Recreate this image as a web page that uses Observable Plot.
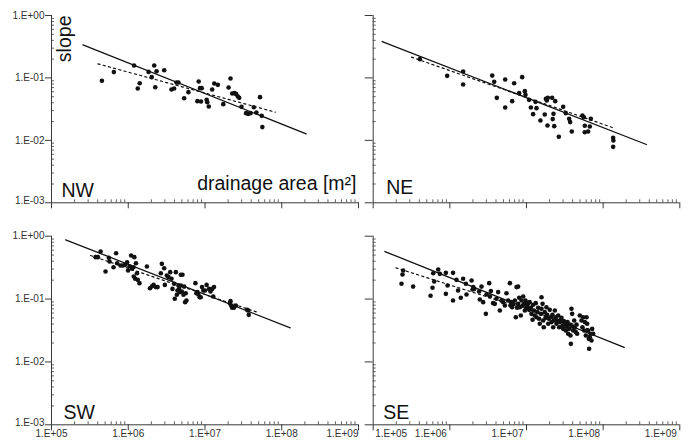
<!DOCTYPE html>
<html>
<head>
<meta charset="utf-8">
<script src="https://cdn.jsdelivr.net/npm/d3@7"></script>
<script src="https://cdn.jsdelivr.net/npm/@observablehq/plot@0.6"></script>
<style>
  html, body { margin: 0; padding: 0; background: #fff; }
  #chart { position: relative; width: 692px; height: 441px; overflow: hidden; }
  #chart svg { position: absolute; }
</style>
</head>
<body>
<div id="chart"></div>
<script>
// ---- Axis definitions ----
const xDomain = [1e5, 1e9];
const yDomain = [1e-3, 1];
const xTickValues = [1e5, 1e6, 1e7, 1e8, 1e9];
const xTickLabels = ["1.E+05", "1.E+06", "1.E+07", "1.E+08", "1.E+09"];
const yTickValues = [1, 1e-1, 1e-2, 1e-3];
const yTickLabels = ["1.E+00", "1.E-01", "1.E-02", "1.E-03"];
const xTitle = "drainage area [m²]";
const yTitle = "slope";
const panelNames = ["NW", "NE", "SW", "SE"];

// ---- Data: [drainage area (m²), slope] ----
const nwPoints = [[4.54e5,0.0899],[6.49e5,0.124],[1.19e6,0.158],[1.33e6,0.0677],[1.41e6,0.0824],[1.84e6,0.125],[2.02e6,0.103],[2.18e6,0.158],[2.25e6,0.0711],[2.34e6,0.128],[2.94e6,0.133],[3.66e6,0.0653],[3.96e6,0.0677],[4.25e6,0.0845],[4.51e6,0.0845],[5.35e6,0.0474],[6.08e6,0.0592],[7.96e6,0.0425],[8.28e6,0.0877],[8.61e6,0.0686],[8.87e6,0.0419],[9.06e6,0.0686],[1.05e7,0.0446],[1.07e7,0.0409],[1.12e7,0.0349],[1.24e7,0.0653],[1.32e7,0.0814],[1.47e7,0.0775],[1.73e7,0.038],[2.03e7,0.0703],[2.15e7,0.098],[2.26e7,0.0563],[2.42e7,0.057],[2.55e7,0.055],[2.68e7,0.0504],[2.79e7,0.048],[2.99e7,0.0344],[3.43e7,0.0273],[3.65e7,0.0266],[3.91e7,0.0273],[4.32e7,0.034],[4.67e7,0.0279],[5.21e7,0.0492],[5.48e7,0.0247],[5.59e7,0.0163]];
const nwSolid = [[2.57e5,0.339],[2.08e8,0.0127]];
const nwDashed = [[4.02e5,0.168],[8.24e7,0.0283]];

const nePoints = [[4.06e5,0.200],[9.23e5,0.108],[1.49e6,0.127],[1.49e6,0.0785],[3.57e6,0.109],[3.79e6,0.0866],[4.10e6,0.048],[5.27e6,0.0944],[5.27e6,0.0336],[6.50e6,0.0425],[6.90e6,0.0824],[8.02e6,0.057],[8.78e6,0.103],[9.51e6,0.0614],[9.70e6,0.0536],[1.08e7,0.0446],[1.14e7,0.0336],[1.22e7,0.0263],[1.31e7,0.0414],[1.35e7,0.0328],[1.52e7,0.0208],[1.73e7,0.0259],[1.79e7,0.0463],[1.84e7,0.0435],[1.88e7,0.0173],[1.90e7,0.048],[2.16e7,0.048],[2.20e7,0.0219],[2.25e7,0.0266],[2.30e7,0.0169],[2.37e7,0.0425],[2.64e7,0.0114],[3.01e7,0.0344],[3.26e7,0.0273],[3.60e7,0.0221],[3.71e7,0.0196],[3.90e7,0.0139],[5.37e7,0.025],[5.60e7,0.0235],[5.76e7,0.0171],[5.76e7,0.0135],[6.37e7,0.0139],[6.70e7,0.0167],[6.90e7,0.0221],[1.35e8,0.011],[1.36e8,0.00995],[1.35e8,0.00787]];
const neSolid = [[1.31e5,0.383],[3.67e8,0.00859]];
const neDashed = [[3.16e5,0.215],[1.35e8,0.0159]];

const swPoints = [[3.75e5,0.464],[4.02e5,0.464],[4.36e5,0.570],[5.06e5,0.274],[5.59e5,0.453],[5.70e5,0.396],[6.43e5,0.321],[6.95e5,0.537],[7.17e5,0.372],[7.91e5,0.342],[8.49e5,0.342],[9.10e5,0.350],[9.66e5,0.386],[9.95e5,0.284],[1.04e6,0.333],[1.09e6,0.493],[1.12e6,0.303],[1.17e6,0.321],[1.18e6,0.229],[1.20e6,0.464],[1.23e6,0.210],[1.26e6,0.372],[1.30e6,0.258],[1.33e6,0.202],[1.40e6,0.179],[1.75e6,0.330],[1.92e6,0.149],[2.04e6,0.160],[2.14e6,0.168],[2.29e6,0.155],[2.41e6,0.155],[2.66e6,0.258],[2.74e6,0.363],[2.94e6,0.310],[3.00e6,0.168],[3.18e6,0.237],[3.35e6,0.223],[3.52e6,0.268],[3.66e6,0.210],[3.77e6,0.145],[3.96e6,0.175],[4.04e6,0.101],[4.17e6,0.268],[4.30e6,0.117],[4.38e6,0.137],[4.51e6,0.164],[4.60e6,0.145],[4.70e6,0.129],[4.84e6,0.243],[4.84e6,0.164],[4.99e6,0.132],[5.09e6,0.243],[5.24e6,0.117],[5.35e6,0.158],[5.51e6,0.0893],[5.61e6,0.124],[5.73e6,0.0949],[7.50e6,0.179],[7.72e6,0.124],[7.96e6,0.129],[8.20e6,0.118],[8.53e6,0.107],[8.79e6,0.107],[9.14e6,0.155],[9.51e6,0.137],[1.00e7,0.137],[1.05e7,0.168],[1.13e7,0.145],[1.18e7,0.132],[1.24e7,0.145],[1.28e7,0.110],[1.31e7,0.155],[2.11e7,0.0861],[2.15e7,0.0926],[2.19e7,0.079],[2.26e7,0.0726],[2.38e7,0.0726],[2.52e7,0.079],[3.54e7,0.0674],[3.65e7,0.0658],[3.72e7,0.0561]];
const swSolid = [[1.53e5,0.875],[1.29e8,0.0349]];
const swDashed = [[3.23e5,0.493],[4.77e7,0.0619]];

const sePoints = [[2.46e5,0.284],[2.41e5,0.246],[2.34e5,0.175],[3.32e5,0.158],[5.60e5,0.113],[5.94e5,0.151],[6.25e5,0.190],[6.07e5,0.258],[7.05e5,0.295],[7.41e5,0.252],[8.87e5,0.261],[9.33e5,0.164],[8.87e5,0.121],[1.10e6,0.261],[1.10e6,0.0949],[1.22e6,0.202],[1.28e6,0.137],[1.39e6,0.105],[1.49e6,0.210],[1.62e6,0.175],[1.65e6,0.118],[1.92e6,0.197],[1.98e6,0.142],[2.02e6,0.155],[2.08e6,0.145],[2.41e6,0.132],[2.46e6,0.0985],[2.59e6,0.158],[2.72e6,0.0893],[2.95e6,0.0582],[3.01e6,0.118],[3.26e6,0.179],[3.33e6,0.110],[3.43e6,0.134],[3.67e6,0.0861],[3.86e6,0.0839],[4.06e6,0.101],[4.27e6,0.129],[4.49e6,0.0658],[4.72e6,0.0949],[4.96e6,0.0893],[5.22e6,0.079],[5.48e6,0.124],[5.77e6,0.0949],[6.07e6,0.179],[6.18e6,0.079],[6.37e6,0.0893],[6.50e6,0.0743],[6.70e6,0.0839],[7.05e6,0.0949],[7.26e6,0.0515],[7.41e6,0.155],[7.55e6,0.0726],[7.78e6,0.158],[7.78e6,0.0839],[8.02e6,0.105],[8.18e6,0.0743],[8.43e6,0.0548],[8.61e6,0.0949],[8.87e6,0.079],[9.06e6,0.110],[9.33e6,0.0839],[9.51e6,0.0658],[9.70e6,0.0949],[1.00e7,0.0743],[1.02e7,0.079],[1.05e7,0.0861],[1.08e7,0.0674],[1.10e7,0.0893],[1.14e7,0.0726],[1.16e7,0.0582],[1.20e7,0.0468],[1.22e7,0.081],[1.25e7,0.0658],[1.28e7,0.0548],[1.32e7,0.0861],[1.35e7,0.0515],[1.39e7,0.0619],[1.42e7,0.0726],[1.46e7,0.0485],[1.49e7,0.0404],[1.54e7,0.0582],[1.57e7,0.107],[1.57e7,0.070],[1.62e7,0.0839],[1.65e7,0.0456],[1.68e7,0.0357],[1.73e7,0.0619],[1.77e7,0.0503],[1.82e7,0.0743],[1.86e7,0.0561],[1.92e7,0.0404],[1.96e7,0.0485],[2.01e7,0.0674],[2.06e7,0.0515],[2.12e7,0.0430],[2.18e7,0.0561],[2.23e7,0.0357],[2.27e7,0.0456],[2.34e7,0.0658],[2.39e7,0.0515],[2.46e7,0.0404],[2.51e7,0.0456],[2.59e7,0.0548],[2.67e7,0.0357],[2.72e7,0.0430],[2.81e7,0.0468],[2.86e7,0.0503],[2.95e7,0.038],[3.01e7,0.0336],[3.07e7,0.0446],[3.16e7,0.0404],[3.26e7,0.0316],[3.33e7,0.0366],[3.43e7,0.0430],[3.49e7,0.028],[3.60e7,0.0336],[3.67e7,0.0394],[3.75e7,0.0264],[3.79e7,0.0194],[3.86e7,0.070],[3.94e7,0.0582],[3.98e7,0.0366],[4.06e7,0.0316],[4.19e7,0.0456],[4.27e7,0.0349],[4.40e7,0.0298],[4.49e7,0.0394],[4.58e7,0.028],[4.96e7,0.0548],[5.22e7,0.0456],[5.37e7,0.0357],[5.48e7,0.0515],[5.65e7,0.0316],[5.77e7,0.0430],[5.94e7,0.0264],[6.07e7,0.0515],[6.18e7,0.0404],[6.37e7,0.0316],[6.50e7,0.0233],[6.56e7,0.0162],[6.70e7,0.0248],[6.84e7,0.028],[7.05e7,0.0219],[7.19e7,0.0336],[7.41e7,0.028]];
const seSolid = [[1.42e5,0.570],[1.88e8,0.0170]];
const seDashed = [[1.98e5,0.314],[7.41e7,0.0316]];

// ---- helpers ----
const fmtX = d => xTickLabels[xTickValues.indexOf(d)];
const fmtY = d => yTickLabels[yTickValues.indexOf(d)];
const decadesX = xTickValues.slice(0, -1);
const decadesY = yTickValues.slice(1);
const xMinor = decadesX.flatMap(b => [2,3,4,5,6,7,8,9].map(k => k * b));
const yMinor = decadesY.flatMap(b => [2,3,4,5,6,7,8,9].map(k => k * b));

const AXIS = "#3a3a3a";
const INK = "#111";
const FONT = "'Liberation Sans', Arial, Helvetica, sans-serif";

function panel(cfg) {
  const plotW = cfg.width - cfg.mL - cfg.mR;
  const plotH = cfg.height - cfg.mT - cfg.mB;
  const marks = [
    // axis lines
    Plot.ruleX([xDomain[0]], {stroke: AXIS, strokeWidth: 1}),
    Plot.ruleY([yDomain[0]], {stroke: AXIS, strokeWidth: 1}),
    // minor ticks (inside)
    Plot.tickY(yMinor, {y: d => d, stroke: AXIS, strokeWidth: 0.8, insetRight: plotW - 3}),
    Plot.tickX(xMinor, {x: d => d, stroke: AXIS, strokeWidth: 0.8, insetTop: plotH - 3}),
    // major ticks
    Plot.axisY({ticks: yTickValues, tickSize: cfg.yTick, stroke: AXIS, fill: "none", label: null}),
    Plot.axisX({ticks: xTickValues, tickSize: 6, stroke: AXIS, fill: "none", label: null}),
    // fits
    Plot.line(cfg.solid, {x: d => d[0], y: d => d[1], stroke: INK, strokeWidth: 1.3}),
    Plot.line(cfg.dashed, {x: d => d[0], y: d => d[1], stroke: INK, strokeWidth: 1.2, strokeDasharray: "2.2,3.2"}),
    // points
    Plot.dot(cfg.points, {x: d => d[0], y: d => d[1], r: 2.3, fill: INK, stroke: "none"}),
    // panel name
    Plot.text([cfg.name], {text: d => d, frameAnchor: "bottom-left", textAnchor: "start", lineAnchor: "bottom",
      dx: cfg.nameDx, dy: cfg.nameDy, fontSize: 19.5, fill: "#111"})
  ];
  if (cfg.yLabels) {
    marks.push(Plot.axisY({ticks: yTickValues.slice(0, 3), tickSize: 0, tickPadding: cfg.yTick + 1,
      fill: "#333", tickFormat: fmtY, fontSize: 10, label: null}));
    marks.push(Plot.axisY({ticks: yTickValues.slice(3), tickSize: 0, tickPadding: cfg.yTick + 1, dy: -2,
      fill: "#333", tickFormat: fmtY, fontSize: 10, label: null}));
  }
  if (cfg.xLabels) {
    for (const g of cfg.xLabels) {
      marks.push(Plot.text(g.values, {x: d => d, text: fmtX, frameAnchor: "bottom", lineAnchor: "top",
        textAnchor: g.anchor, dx: g.dx, dy: 5, fontSize: 10, fill: "#333"}));
    }
  }
  if (cfg.titles) {
    marks.push(Plot.text([xTitle], {text: d => d, frameAnchor: "bottom-right", textAnchor: "end", lineAnchor: "bottom",
      dx: -2, dy: -13, fontSize: 19.5, fill: "#111"}));
    marks.push(Plot.text([yTitle], {text: d => d, frameAnchor: "top-left", textAnchor: "end", lineAnchor: "bottom",
      rotate: -90, dx: 19, dy: 0, fontSize: 19.5, fill: "#111"}));
  }
  const svg = Plot.plot({
    width: cfg.width, height: cfg.height,
    marginLeft: cfg.mL, marginRight: cfg.mR, marginTop: cfg.mT, marginBottom: cfg.mB,
    x: {type: "log", domain: xDomain, axis: null},
    y: {type: "log", domain: yDomain, axis: null},
    style: {fontFamily: FONT, background: "transparent", overflow: "visible", color: "#111"},
    marks
  });
  svg.style.left = cfg.left + "px";
  svg.style.top = cfg.top + "px";
  svg.style.maxWidth = "none";
  document.getElementById("chart").appendChild(svg);
}

panel({name: panelNames[0], points: nwPoints, solid: nwSolid, dashed: nwDashed,
  left: 0, top: 0, width: 366, height: 220, mL: 51, mR: 8, mT: 15, mB: 17.7,
  yTick: 6, yLabels: true, titles: true, nameDx: 10, nameDy: -6});
panel({name: panelNames[1], points: nePoints, solid: neSolid, dashed: neDashed,
  left: 346, top: 0, width: 346, height: 220, mL: 26.7, mR: 12.7, mT: 15, mB: 17.7,
  yTick: 8, yLabels: false, nameDx: 13, nameDy: -9});
panel({name: panelNames[2], points: swPoints, solid: swSolid, dashed: swDashed,
  left: 0, top: 220, width: 366, height: 221, mL: 51, mR: 8, mT: 15.7, mB: 16.7,
  yTick: 6, yLabels: true, nameDx: 12, nameDy: -6,
  xLabels: [{values: xTickValues.slice(0, 4), anchor: "middle", dx: 0},
            {values: xTickValues.slice(4), anchor: "end", dx: 0}]});
panel({name: panelNames[3], points: sePoints, solid: seSolid, dashed: seDashed,
  left: 346, top: 220, width: 346, height: 221, mL: 26.7, mR: 12.7, mT: 15.7, mB: 16.7,
  yTick: 8, yLabels: false, nameDx: 10, nameDy: -6,
  xLabels: [{values: xTickValues.slice(0, 1), anchor: "start", dx: 2},
            {values: xTickValues.slice(1), anchor: "end", dx: -3}]});
</script>
</body>
</html>
